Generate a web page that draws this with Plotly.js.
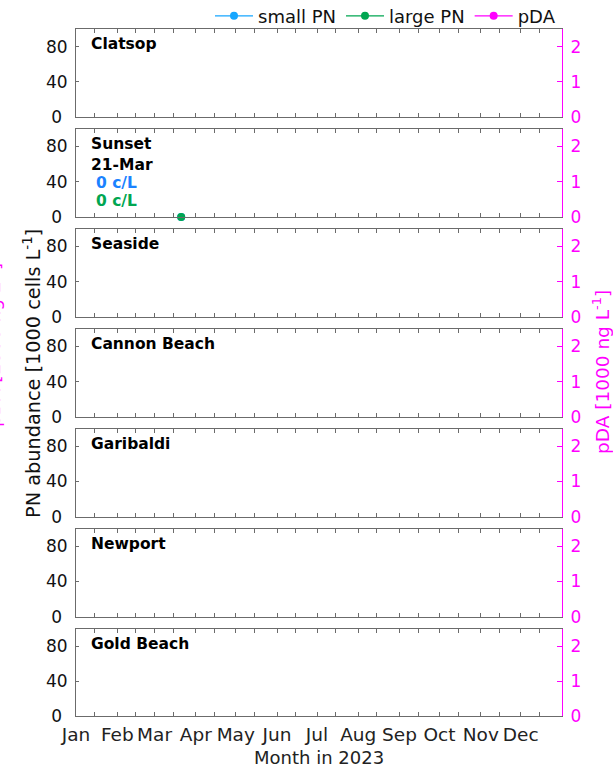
<!DOCTYPE html>
<html>
<head>
<meta charset="utf-8">
<script src="https://cdn.plot.ly/plotly-3.0.1.min.js"></script>
<style>html,body{margin:0;padding:0;background:#fff;}#chart{width:613px;height:768px;}</style>
</head>
<body>
<div id="chart"></div>
<script>
// ---- data ----
const stations = ["Clatsop", "Sunset", "Seaside", "Cannon Beach", "Garibaldi", "Newport", "Gold Beach"];
// sample dates and values per station (index matches stations)
const sampleDates = [[], ["2023-03-21"], [], [], [], [], []];
const smallPN = [[], [0], [], [], [], [], []];   // 1000 cells/L
const largePN = [[], [0], [], [], [], [], []];   // 1000 cells/L
const pDA = [[], [], [], [], [], [], []];        // 1000 ng/L
const latestLabel = ["", "21-Mar", "", "", "", "", ""];
const latestSmall = ["", "0 c/L", "", "", "", "", ""];
const latestLarge = ["", "0 c/L", "", "", "", "", ""];
const monthLabels = ["Jan","Feb","Mar","Apr","May","Jun","Jul","Aug","Sep","Oct","Nov","Dec"];
const leftTicks = [0, 40, 80];
const leftTickText = ["0\u00a0", "40", "80"];
const rightTicks = [0, 1, 2];

// ---- layout geometry ----
const W = 613, H = 768;
const L = 76, R = 562, T = 29.3, B = 715.7;
const pw = R - L, ph = B - T;
const panelH = 88, pitch = 99.83;
const px2x = p => (p - L) / pw;
const py2y = p => (B - p) / ph;

const cSmall = "#16a6ff", cLarge = "#00a651", cPDA = "#ff00ff", cAxis = "#6b6b6b";
const cSmallTxt = "#1a82ff";
const font = "DejaVu Sans, Verdana, sans-serif";

const tickvals = [], ticktext = [];
for (let m = 0; m < 12; m++) {
  const mm = String(m + 1).padStart(2, "0");
  tickvals.push("2023-" + mm + "-01"); ticktext.push(monthLabels[m]);
  tickvals.push("2023-" + mm + "-15"); ticktext.push("");
}

// first station that has samples carries the legend entries
const legendIdx = Math.max(0, sampleDates.findIndex(d => d.length > 0));

const data = [];
const layout = {
  width: W, height: H,
  margin: {l: L, r: W - R, t: T, b: H - B, pad: 0, autoexpand: false},
  paper_bgcolor: "#fff", plot_bgcolor: "#fff",
  font: {family: font, size: 17, color: "#222"},
  showlegend: true,
  legend: {orientation: "h", x: px2x(561), xanchor: "right", y: py2y(-2), yanchor: "top",
           font: {size: 18, color: "#111", family: font}, bgcolor: "rgba(0,0,0,0)",
           itemwidth: 38, tracegroupgap: 0, traceorder: "normal"},
  annotations: [],
  hovermode: false
};

stations.forEach((name, i) => {
  const n = i + 1;
  const topPx = T + i * pitch;
  const botPx = topPx + panelH;
  const dom = [Math.max(0, py2y(botPx)), Math.min(1, py2y(topPx))];
  const xa = "xaxis" + (n === 1 ? "" : n), ya = "yaxis" + (n === 1 ? "" : n);
  const ya2name = "yaxis" + (n + 7);
  const xr = "x" + (n === 1 ? "" : n), yr = "y" + (n === 1 ? "" : n), yr2 = "y" + (n + 7);
  const isLast = i === stations.length - 1;
  layout[xa] = {
    type: "date", range: ["2023-01-01", "2024-01-01"], domain: [0, 1], anchor: yr,
    tickmode: "array", tickvals: tickvals, ticktext: isLast ? ticktext : tickvals.map(() => ""),
    ticks: "inside", ticklen: 4, tickwidth: 1, tickcolor: cAxis,
    showline: true, linecolor: cAxis, linewidth: 1, mirror: "ticks",
    showgrid: false, zeroline: false, fixedrange: true, ticklabelstandoff: 2,
    tickfont: {size: 18.5, color: "#222", family: font}
  };
  layout[ya] = {
    domain: dom, anchor: xr, range: [0, 100],
    tickmode: "array", tickvals: leftTicks, ticktext: leftTickText,
    ticks: "inside", ticklen: 3, tickcolor: cAxis, tickwidth: 1,
    showline: true, linecolor: cAxis, linewidth: 1,
    showgrid: false, zeroline: false, fixedrange: true, ticklabelstandoff: 4,
    tickfont: {size: 17, color: "#111", family: font}
  };
  layout[ya2name] = {
    domain: dom, anchor: xr, overlaying: yr, side: "right", range: [0, 2.5],
    tickmode: "array", tickvals: rightTicks,
    ticks: "inside", ticklen: 5, tickcolor: cPDA, tickwidth: 1,
    showline: true, linecolor: cPDA, linewidth: 1,
    showgrid: false, zeroline: false, fixedrange: true, ticklabelstandoff: 4,
    tickfont: {size: 17, color: cPDA, family: font}
  };
  const showL = i === legendIdx;
  data.push({type: "scatter", mode: "lines+markers", name: "small PN", x: sampleDates[i], y: smallPN[i],
             xaxis: xr, yaxis: yr, line: {color: cSmall, width: 1.2}, marker: {color: cSmall, size: 8},
             showlegend: showL, cliponaxis: false});
  data.push({type: "scatter", mode: "lines+markers", name: "large PN", x: sampleDates[i], y: largePN[i],
             xaxis: xr, yaxis: yr, line: {color: cLarge, width: 1.2}, marker: {color: cLarge, size: 8},
             showlegend: showL, cliponaxis: false});
  const hasPDA = pDA[i].length > 0;
  data.push({type: "scatter", mode: "lines+markers", name: "pDA",
             x: hasPDA ? sampleDates[i] : [null], y: hasPDA ? pDA[i] : [null],
             xaxis: xr, yaxis: yr2, line: {color: cPDA, width: 1.2}, marker: {color: cPDA, size: 8},
             showlegend: showL, cliponaxis: false});

  layout.annotations.push({xref: "paper", yref: "paper", x: px2x(89), y: py2y(topPx + 15),
    xanchor: "left", yanchor: "middle", showarrow: false, text: "<b>" + name + "</b>",
    font: {size: 15.5, color: "#000", family: font}});
  if (latestLabel[i]) {
    layout.annotations.push({xref: "paper", yref: "paper", x: px2x(89), y: py2y(topPx + 36),
      xanchor: "left", yanchor: "middle", showarrow: false, text: "<b>" + latestLabel[i] + "</b>",
      font: {size: 15.5, color: "#000", family: font}});
    layout.annotations.push({xref: "paper", yref: "paper", x: px2x(94), y: py2y(topPx + 54.5),
      xanchor: "left", yanchor: "middle", showarrow: false, text: "<b>" + latestSmall[i] + "</b>",
      font: {size: 15.5, color: cSmallTxt, family: font}});
    layout.annotations.push({xref: "paper", yref: "paper", x: px2x(94), y: py2y(topPx + 72.5),
      xanchor: "left", yanchor: "middle", showarrow: false, text: "<b>" + latestLarge[i] + "</b>",
      font: {size: 15.5, color: cLarge, family: font}});
  }
});

// axis titles
layout.annotations.push({xref: "paper", yref: "paper", x: 0.5, y: py2y(757), borderpad: 0,
  xanchor: "center", yanchor: "middle", showarrow: false,
  text: "Month in 2023", font: {size: 18, color: "#222", family: font}});
layout.annotations.push({xref: "paper", yref: "paper", x: px2x(32), y: py2y(374), textangle: -90,
  xanchor: "center", yanchor: "middle", showarrow: false,
  text: "PN abundance [1000 cells L<sup>-1</sup>]", font: {size: 19.3, color: "#111", family: font}});
layout.annotations.push({xref: "paper", yref: "paper", x: px2x(601), y: py2y(372), textangle: -90,
  xanchor: "center", yanchor: "middle", showarrow: false,
  text: "pDA [1000 ng L<sup>-1</sup>]", font: {size: 18.5, color: cPDA, family: font}});
layout.annotations.push({xref: "paper", yref: "paper", x: px2x(-8), y: py2y(345), textangle: -90,
  xanchor: "center", yanchor: "middle", showarrow: false,
  text: "pDA [1000 ng L<sup>-1</sup>]", font: {size: 18.5, color: cPDA, family: font}});

Plotly.newPlot("chart", data, layout, {displayModeBar: false, staticPlot: true});
</script>
</body>
</html>
